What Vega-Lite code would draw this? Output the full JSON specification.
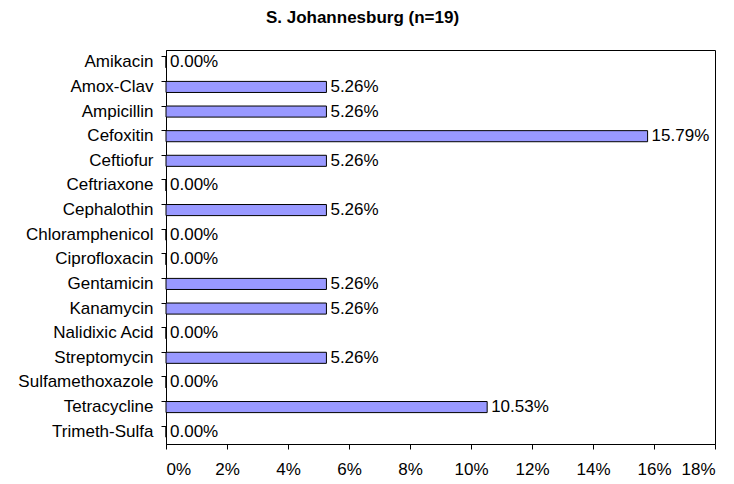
{
  "$schema": "https://vega.github.io/schema/vega-lite/v6.json",
  "width": 549,
  "height": 394,
  "autosize": "none",
  "padding": {"left": 166, "top": 50, "right": 19, "bottom": 40},
  "background": "white",
  "title": {
    "text": "S. Johannesburg (n=19)",
    "font": "Liberation Sans",
    "fontSize": 17,
    "fontWeight": "bold",
    "color": "black",
    "anchor": "middle",
    "dx": -78,
    "offset": 23
  },
  "config": {
    "view": {"stroke": "black", "strokeWidth": 1},
    "font": "Liberation Sans"
  },
  "data": {
    "values": [
      {"drug": "Amikacin", "pct": 0},
      {"drug": "Amox-Clav", "pct": 0.0526},
      {"drug": "Ampicillin", "pct": 0.0526},
      {"drug": "Cefoxitin", "pct": 0.1579},
      {"drug": "Ceftiofur", "pct": 0.0526},
      {"drug": "Ceftriaxone", "pct": 0},
      {"drug": "Cephalothin", "pct": 0.0526},
      {"drug": "Chloramphenicol", "pct": 0},
      {"drug": "Ciprofloxacin", "pct": 0},
      {"drug": "Gentamicin", "pct": 0.0526},
      {"drug": "Kanamycin", "pct": 0.0526},
      {"drug": "Nalidixic Acid", "pct": 0},
      {"drug": "Streptomycin", "pct": 0.0526},
      {"drug": "Sulfamethoxazole", "pct": 0},
      {"drug": "Tetracycline", "pct": 0.1053},
      {"drug": "Trimeth-Sulfa", "pct": 0}
    ]
  },
  "encoding": {
    "y": {
      "field": "drug",
      "type": "nominal",
      "sort": null,
      "title": null,
      "scale": {"paddingInner": 0.55, "paddingOuter": 0.275},
      "axis": {
        "bandPosition": 0,
        "domainColor": "black",
        "tickColor": "black",
        "tickSize": 5,
        "labelFontSize": 17,
        "labelColor": "black",
        "labelPadding": 8,
        "labelFont": "Liberation Sans"
      }
    },
    "x": {
      "field": "pct",
      "type": "quantitative",
      "title": null,
      "scale": {"domain": [0, 0.18], "nice": false},
      "axis": {
        "values": [0, 0.02, 0.04, 0.06, 0.08, 0.1, 0.12, 0.14, 0.16, 0.18],
        "format": ".0%",
        "grid": false,
        "domainColor": "black",
        "tickColor": "black",
        "tickSize": 5,
        "labelFontSize": 17,
        "labelColor": "black",
        "labelPadding": 12,
        "labelFont": "Liberation Sans"
      }
    }
  },
  "layer": [
    {
      "mark": {"type": "bar", "fill": "#9999FF", "stroke": "black", "strokeWidth": 1}
    },
    {
      "mark": {"type": "text", "align": "left", "baseline": "middle", "dx": 4, "fontSize": 17, "color": "black", "font": "Liberation Sans"},
      "encoding": {
        "text": {"field": "pct", "type": "quantitative", "format": ".2%"}
      }
    }
  ]
}
